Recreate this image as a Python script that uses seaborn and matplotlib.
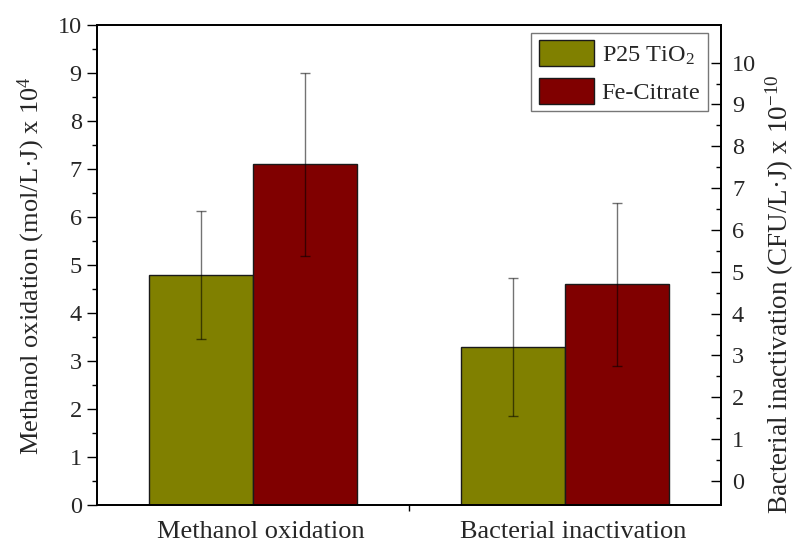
import matplotlib
matplotlib.use("Agg")
import matplotlib.pyplot as plt
import matplotlib.transforms as mtransforms
from matplotlib.ticker import MultipleLocator, FixedLocator
import seaborn as sns
import pandas as pd

categories = ["Methanol oxidation", "Bacterial inactivation"]
series = ["P25 TiO$_2$", "Fe-Citrate"]
p25_values = [4.8, 3.3]
p25_errors = [1.33, 1.43]
fe_values = [7.1, 4.6]
fe_errors = [1.9, 1.7]
left_ticks = list(range(0, 11))
right_ticks = list(range(0, 11))

sns.set_theme(style="ticks")
plt.rcParams["font.family"] = ["Liberation Serif", "DejaVu Serif"]
plt.rcParams["mathtext.fontset"] = "custom"
plt.rcParams["mathtext.rm"] = "Liberation Serif"
plt.rcParams["mathtext.it"] = "Liberation Serif:italic"
plt.rcParams["mathtext.bf"] = "Liberation Serif:bold"

df = pd.DataFrame({
    "category": categories * 2,
    "series": [series[0]] * 2 + [series[1]] * 2,
    "value": p25_values + fe_values,
})

fig = plt.figure(figsize=(7.96, 5.47), dpi=100)
ax = fig.add_axes([0.1219, 0.0759, 0.7845, 0.8784])

sns.barplot(data=df, x="category", y="value", hue="series", order=categories,
            hue_order=series, palette=["#808000", "#800000"], width=2/3,
            edgecolor="#1a1a1a", linewidth=1.0, errorbar=None, saturation=1,
            ax=ax)

# error bars at bar centers (taken from the drawn patches)
xs, ys, es = [], [], []
for container, vals, errs in zip(ax.containers, [p25_values, fe_values], [p25_errors, fe_errors]):
    for bar, v, e in zip(container.patches, vals, errs):
        xs.append(bar.get_x() + bar.get_width() / 2)
        ys.append(v)
        es.append(e)
ax.errorbar(xs, ys, yerr=es, fmt="none", ecolor="black", alpha=0.55,
            elinewidth=1.0, capsize=3.3, capthick=1.0, zorder=5)

ax.set_xlim(-0.5, 1.5)
ax.set_ylim(0, 10)
ax.set_xlabel("")
ax.set_ylabel("Methanol oxidation (mol/L·J) x 10$^{4}$", fontsize=19, labelpad=8)

ax.yaxis.set_major_locator(FixedLocator(left_ticks))
ax.yaxis.set_minor_locator(MultipleLocator(0.5))
ax.tick_params(axis="y", which="major", direction="out", length=7, width=1,
               labelsize=17.5, pad=4, color="black")
ax.tick_params(axis="y", which="minor", direction="out", length=3.5, width=1,
               color="black")
ax.set_xticks([0, 1])
ax.set_xticklabels(categories)
ax.xaxis.set_minor_locator(FixedLocator([0.5]))
ax.tick_params(axis="x", which="major", length=0, labelsize=19, pad=11)
ax.tick_params(axis="x", which="minor", direction="out", length=4, width=1,
               color="black")
offset = mtransforms.ScaledTranslation(8 / 100, 0, fig.dpi_scale_trans)
for lab in ax.get_xticklabels():
    lab.set_transform(lab.get_transform() + offset)

for s in ax.spines.values():
    s.set_visible(True)
    s.set_linewidth(1.3)
    s.set_color("black")

ax2 = ax.twinx()
ax2.set_ylim(-0.586, 10.9)
ax2.yaxis.set_major_locator(FixedLocator(right_ticks))
ax2.yaxis.set_minor_locator(FixedLocator([t + 0.5 for t in right_ticks[:-1]]))
ax2.tick_params(axis="y", which="major", direction="in", length=7.5, width=1,
                labelsize=17.5, pad=7.5, color="black")
ax2.tick_params(axis="y", which="minor", direction="in", length=3.8, width=1,
                color="black")
for s in ax2.spines.values():
    s.set_linewidth(1.3)
    s.set_color("black")
fig.text(780 / 796, 1 - 294 / 547, "Bacterial inactivation (CFU/L·J) x 10$^{-10}$",
         rotation=90, ha="center", va="center", fontsize=19.5)

leg = ax.legend(loc="upper right", bbox_to_anchor=(0.978, 0.984), fontsize=17.5,
                frameon=True, fancybox=False, edgecolor="#555555",
                handlelength=2.3, handleheight=1.3, borderpad=0.3,
                labelspacing=0.45, handletextpad=0.3, borderaxespad=0)
leg.get_frame().set_linewidth(1.0)
leg.set_title(None)

fig.savefig("out.png", dpi=100)
